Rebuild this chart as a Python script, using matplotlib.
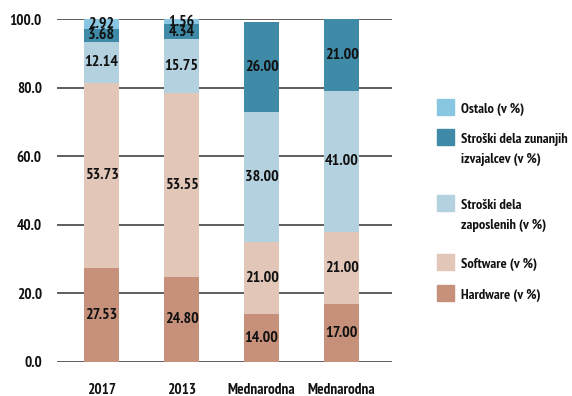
import matplotlib
matplotlib.use("Agg")
import matplotlib.pyplot as plt
from matplotlib.patches import Rectangle
import numpy as np

plt.rcParams["font.family"] = ["PT Sans Narrow", "DejaVu Sans"]
plt.rcParams["font.weight"] = "bold"

categories = ["2017", "2013", "Mednarodna", "Mednarodna"]
hardware = [27.53, 24.80, 14.00, 17.00]
software = [53.73, 53.55, 21.00, 21.00]
zaposleni = [12.14, 15.75, 38.00, 41.00]
zunanji = [3.68, 4.34, 26.00, 21.00]
ostalo = [2.92, 1.56, 0.0, 0.0]

series = [
    (["Hardware (v %)"], hardware, "#c6907a"),
    (["Software (v %)"], software, "#e2c6b8"),
    (["Stroški dela", "zaposlenih (v %)"], zaposleni, "#b4d1df"),
    (["Stroški dela zunanjih", "izvajalcev (v %)"], zunanji, "#3f8aa7"),
    (["Ostalo (v %)"], ostalo, "#89c6e1"),
]

fig = plt.figure(figsize=(5.72, 3.96), dpi=100)
ax = fig.add_axes([0.0997, 0.0859, 0.5857, 0.8661])

x = np.arange(len(categories))
bottom = np.zeros(len(categories))
for label, vals, color in series:
    vals = np.array(vals)
    ax.bar(x, vals, bottom=bottom, width=0.4375, color=color, zorder=3)
    for xi, b, v in zip(x, bottom, vals):
        if v > 0:
            ax.text(xi, b + v / 2, f"{v:.2f}", ha="center", va="center",
                    fontsize=11.5, fontweight="bold", color="#111111", zorder=4)
    bottom += vals

ax.set_xlim(-0.556, 3.63)
ax.set_ylim(0, 100)
ax.set_yticks(np.arange(0, 101, 20))
ax.set_yticklabels([f"{v:.1f}" for v in np.arange(0, 101, 20)])
ax.set_xticks(x)
ax.set_xticklabels(categories)
ax.yaxis.grid(True, color="#505050", linewidth=1.3, zorder=1)
ax.set_axisbelow(True)
for s in ax.spines.values():
    s.set_visible(False)
ax.tick_params(axis="both", length=0, labelsize=11, colors="#111111")
ax.tick_params(axis="y", pad=11)
ax.tick_params(axis="x", pad=15)
for t in ax.get_xticklabels() + ax.get_yticklabels():
    t.set_fontweight("bold")

# Legend: colour squares with one- or two-line labels (pixel layout)
W, H = 572.0, 396.0
legend_tops = [285, 254, 195, 129, 99]
for (lines, _, color), top in zip(series, legend_tops):
    fig.patches.append(Rectangle((437 / W, 1 - (top + 16) / H), 17 / W, 16 / H,
                                 transform=fig.transFigure, color=color))
    for i, line in enumerate(lines):
        fig.text(461 / W, 1 - (top + 14 + 19.5 * i) / H, line, ha="left",
                 va="baseline", fontsize=10.4, fontweight="bold", color="#111111")

fig.savefig("out.png", dpi=100)
